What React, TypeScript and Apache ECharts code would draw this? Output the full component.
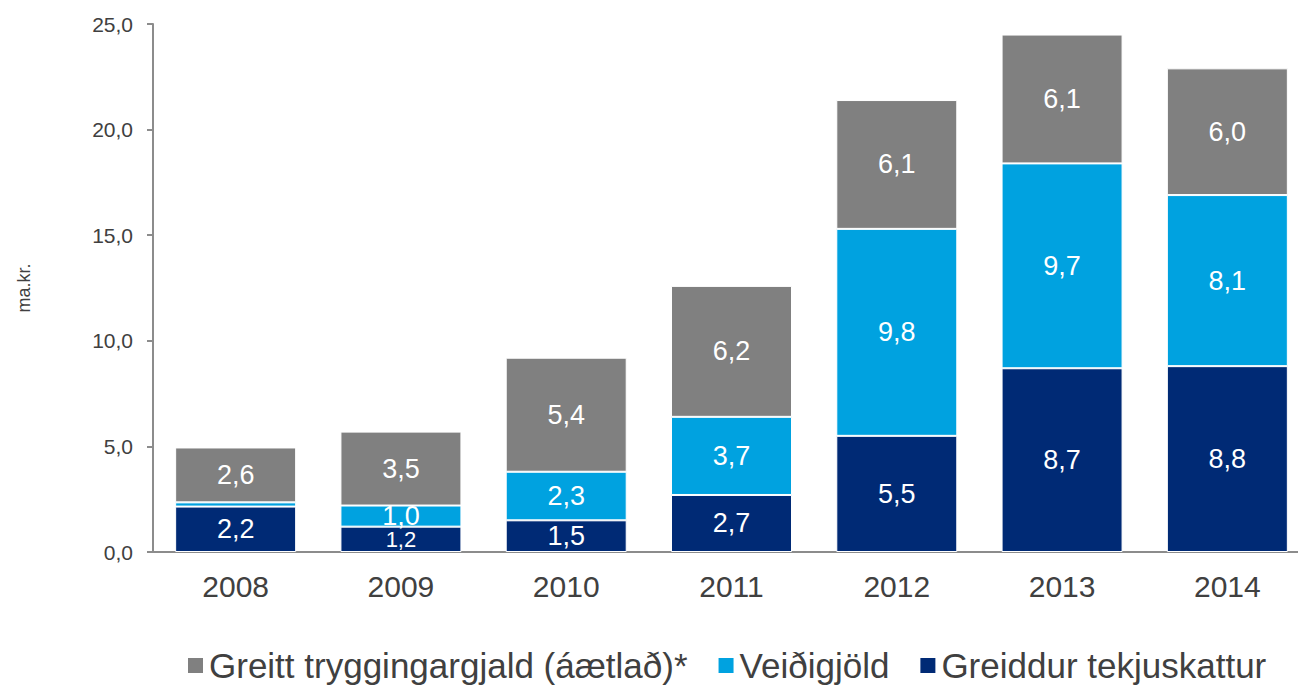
import React, { useEffect, useRef } from "react";
import * as echarts from "echarts";

const years = ["2008", "2009", "2010", "2011", "2012", "2013", "2014"];
const tekjuskattur = [2.15, 1.2, 1.5, 2.7, 5.5, 8.7, 8.8];
const veidigjold = [0.2, 1.0, 2.3, 3.7, 9.8, 9.7, 8.1];
const tryggingargjald = [2.6, 3.5, 5.4, 6.2, 6.1, 6.1, 6.0];
const yTicks = [0, 5, 10, 15, 20, 25];

const NAVY = "#002A75";
const BLUE = "#00A2E0";
const GRAY = "#808080";
const FONT = "Liberation Sans, Arial, sans-serif";

const fmt = (v: number) => v.toFixed(1).replace(".", ",");

export default function App() {
  const ref = useRef<HTMLDivElement>(null);
  useEffect(() => {
    if (!ref.current) return;
    const chart = echarts.init(ref.current, undefined, { renderer: "svg" });
    const mk = (name: string, data: number[], color: string, smallIdx: number[] = []) => ({
      name,
      type: "bar",
      stack: "total",
      barWidth: 121,
      data: data.map((v, i) => ({
        value: v,
        label: smallIdx.includes(i) ? { fontSize: 22 } : undefined,
      })),
      itemStyle: { color, borderColor: "#fff", borderWidth: 1 },
      label: {
        show: true,
        position: "inside",
        color: "#fff",
        fontSize: 27,
        fontFamily: FONT,
        formatter: (p: any) => (p.value < 0.5 ? "" : fmt(Math.round(p.value * 10) / 10)),
      },
    });
    chart.setOption({
      animation: false,
      grid: { left: 153, width: 1157, top: 24, height: 528, outerBoundsMode: "none" },
      legend: {
        data: ["Greitt tryggingargjald (áætlað)*", "Veiðigjöld", "Greiddur tekjuskattur"],
        left: 181,
        top: 643,
        icon: "rect",
        itemWidth: 17,
        itemHeight: 17,
        itemGap: 29,
        textStyle: { fontSize: 35, color: "#404040", fontFamily: FONT },
      },
      xAxis: {
        type: "category",
        data: years,
        axisLine: { lineStyle: { color: "#8c8c8c", width: 2 } },
        axisTick: { show: false },
        axisLabel: { color: "#404040", fontSize: 30, margin: 19, fontFamily: FONT },
      },
      yAxis: {
        type: "value",
        min: yTicks[0],
        max: yTicks[yTicks.length - 1],
        interval: 5,
        name: "ma.kr.",
        nameLocation: "middle",
        nameRotate: 90,
        nameGap: 120,
        nameTextStyle: { fontSize: 18, color: "#404040", fontFamily: FONT },
        splitLine: { show: false },
        axisLine: { show: true, lineStyle: { color: "#8c8c8c", width: 2 } },
        axisTick: { show: true, length: 6, lineStyle: { color: "#8c8c8c", width: 2 } },
        axisLabel: {
          color: "#404040",
          fontSize: 21,
          margin: 20,
          fontFamily: FONT,
          formatter: (v: number) => fmt(v),
        },
      },
      series: [
        mk("Greiddur tekjuskattur", tekjuskattur, NAVY, [1]),
        mk("Veiðigjöld", veidigjold, BLUE),
        mk("Greitt tryggingargjald (áætlað)*", tryggingargjald, GRAY),
      ],
    });
    return () => chart.dispose();
  }, []);
  return (
    <div
      ref={ref}
      style={{ position: "fixed", left: 0, top: 0, width: 1298, height: 688, background: "#fff" }}
    />
  );
}
